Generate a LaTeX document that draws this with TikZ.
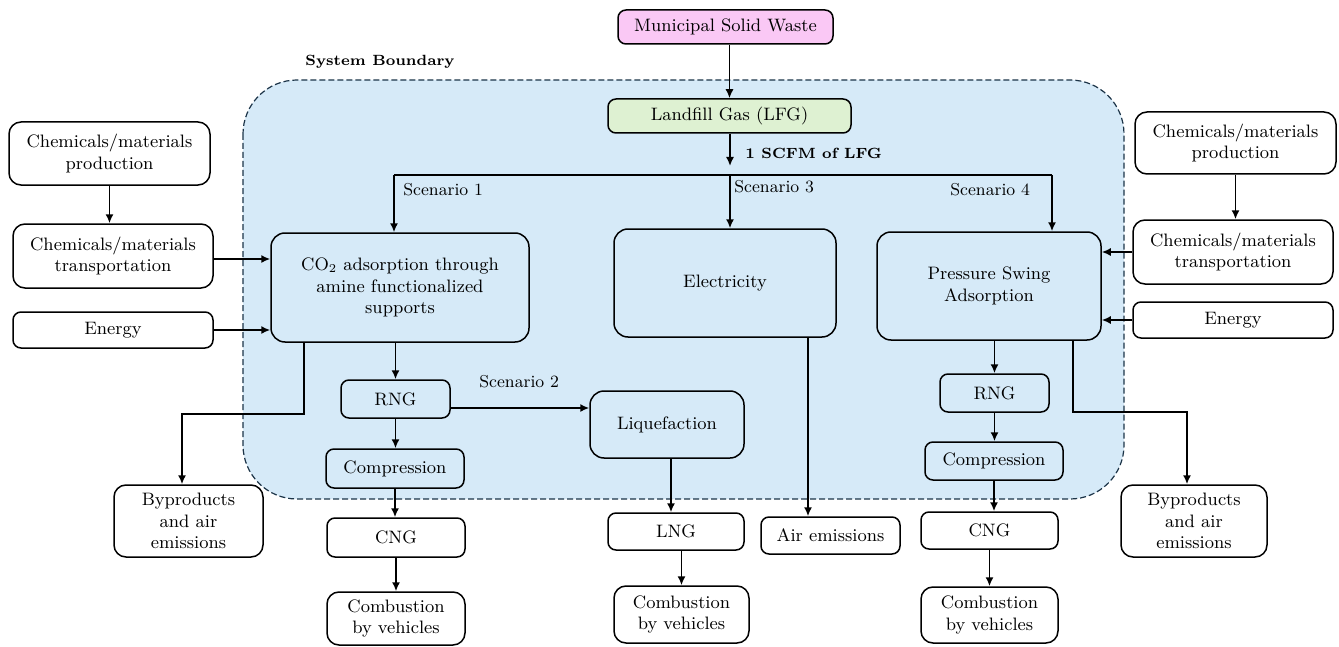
\documentclass[tikz,border=0pt]{standalone}
\usetikzlibrary{arrows.meta,positioning,calc}
\definecolor{zoneblue}{RGB}{214,234,248}
\definecolor{zonenavy}{RGB}{28,52,72}
\definecolor{mswpink}{RGB}{250,200,245}
\definecolor{lfggreen}{RGB}{222,241,210}
\begin{document}
\begin{tikzpicture}[x=0.5pt, y=-0.5pt, font=\fontsize{9}{10.8}\selectfont, >={Latex[length=4.5pt,width=4pt]},
	slot/.style={draw, rounded corners=4pt, line width=0.75pt, align=center, inner sep=1pt},
	inslot/.style={slot, fill=zoneblue},
	outslot/.style={slot, fill=white},
	bigslot/.style={inslot, rounded corners=7pt},
	flow/.style={->, line width=0.8pt},
	tag/.style={font=\fontsize{8.6}{10}\selectfont, anchor=west, inner sep=0pt},
	boldtag/.style={font=\fontsize{7.4}{9}\selectfont\bfseries, inner sep=0pt}]
	\useasboundingbox (0,0) rectangle (1339,647);
	\draw[zonenavy, fill=zoneblue, line width=0.6pt, dash pattern=on 3pt off 1.5pt, rounded corners=27pt] (243,80) rectangle (1124,499);
	\node[boldtag] (sysb) at (380,62) {System Boundary};
	\node[slot, fill=mswpink, minimum width=107.5pt, minimum height=17pt] (msw) at (725.5,27) {Municipal Solid Waste};
	\node[slot, fill=lfggreen, minimum width=121.5pt, minimum height=17pt] (lfg) at (729.5,116) {Landfill Gas (LFG)};
	\node[boldtag, anchor=west] (scfm) at (745,153) {1 SCFM of LFG};
	\coordinate (split) at (730,175);
	\coordinate (splitin) at (730,166);
	\coordinate (s1) at (394,175);
	\coordinate (s4) at (1052,175);
	\node[outslot, rounded corners=6pt, minimum width=100.5pt, minimum height=31.5pt] (cpl) at (109.5,153.5) {Chemicals/materials\\production};
	\node[outslot, rounded corners=6pt, minimum width=100pt, minimum height=32pt] (ctl) at (113,256) {Chemicals/materials\\transportation};
	\node[outslot, minimum width=100pt, minimum height=18pt] (enl) at (113,330) {Energy};
	\node[outslot, rounded corners=6pt, minimum width=100.5pt, minimum height=31pt] (cpr) at (1235.5,143) {Chemicals/materials\\production};
	\node[outslot, rounded corners=6pt, minimum width=100pt, minimum height=32pt] (ctr) at (1233,252) {Chemicals/materials\\transportation};
	\node[outslot, minimum width=100pt, minimum height=18pt] (enr) at (1233,320) {Energy};
	\node[bigslot, minimum width=129pt, minimum height=54.5pt] (co2) at (400,287.5) {CO$_2$ adsorption through\\amine functionalized\\supports};
	\node[bigslot, minimum width=111pt, minimum height=54pt] (elec) at (725,283) {Electricity};
	\node[bigslot, minimum width=112pt, minimum height=54pt] (psa) at (989,286) {Pressure Swing\\Adsorption};
	\node[tag] (sc1) at (403,190) {Scenario 1};
	\node[tag] (sc3) at (734,187) {Scenario 3};
	\node[tag] (sc4) at (950,190) {Scenario 4};
	\node[tag] (sc2) at (479,382) {Scenario 2};
	\node[inslot, minimum width=54.5pt, minimum height=19pt] (rngl) at (395.5,399) {RNG};
	\node[inslot, minimum width=69pt, minimum height=19.5pt] (compl) at (395,468.5) {Compression};
	\node[outslot, minimum width=69pt, minimum height=19.5pt] (cngl) at (396,537.5) {CNG};
	\node[outslot, rounded corners=6pt, minimum width=69pt, minimum height=26.5pt] (combl) at (396,618.5) {Combustion\\by vehicles};
	\node[outslot, rounded corners=6pt, minimum width=74.5pt, minimum height=36pt] (byl) at (188.5,521) {Byproducts\\and air\\emissions};
	\node[bigslot, minimum width=77pt, minimum height=33.5pt] (liq) at (667,424.5) {Liquefaction};
	\node[outslot, minimum width=68pt, minimum height=18.5pt] (lng) at (676,531.5) {LNG};
	\node[outslot, rounded corners=6pt, minimum width=67.5pt, minimum height=28.5pt] (combm) at (681.5,614.5) {Combustion\\by vehicles};
	\node[outslot, minimum width=69.5pt, minimum height=18.5pt] (air) at (830.5,535.5) {Air emissions};
	\node[inslot, minimum width=54.5pt, minimum height=19pt] (rngr) at (994.5,393) {RNG};
	\node[inslot, minimum width=69pt, minimum height=19pt] (compr) at (994,461) {Compression};
	\node[outslot, minimum width=68.5pt, minimum height=18.5pt] (cngr) at (989.5,530.5) {CNG};
	\node[outslot, rounded corners=6pt, minimum width=68.5pt, minimum height=28pt] (combr) at (989.5,615) {Combustion\\by vehicles};
	\node[outslot, rounded corners=6pt, minimum width=73pt, minimum height=36pt] (byr) at (1194,521) {Byproducts\\and air\\emissions};
	\coordinate (byturnl) at (182,414);
	\coordinate (byturnr) at (1187,412);
	\draw[flow] (msw.south -| lfg.north) -- (lfg.north);
	\draw[flow] (lfg.south -| splitin) -- (splitin);
	\draw[line width=0.9pt] (s1) -- (s4);
	\draw[flow] (s1) -- (s1 |- co2.north);
	\draw[flow] (split) -- (split |- elec.north);
	\draw[flow] (s4) -- (s4 |- psa.north);
	\draw[flow] (cpl.south) -- (cpl.south |- ctl.north);
	\draw[flow] ([yshift=-1.5pt]ctl.east) -- ([yshift=-1.5pt]ctl.east -| co2.west);
	\draw[flow] (enl.east) -- (enl.east -| co2.west);
	\draw[flow] (cpr.south) -- (cpr.south |- ctr.north);
	\draw[flow] (ctr.west) -- (ctr.west -| psa.east);
	\draw[flow] (enr.west) -- (enr.west -| psa.east);
	\draw[flow] (co2.south -| rngl.north) -- (rngl.north);
	\draw[flow] (rngl.south) -- (rngl.south |- compl.north);
	\draw[flow] (compl.south) -- (compl.south |- cngl.north);
	\draw[flow] (cngl.south) -- (cngl.south |- combl.north);
	\draw[flow] ([yshift=-4.5pt]rngl.east) -- ([yshift=-4.5pt]rngl.east -| liq.west);
	\draw[flow] ([xshift=2pt]liq.south) -- ([xshift=2pt]liq.south |- lng.north);
	\draw[flow] (lng.south -| combm.north) -- (combm.north);
	\draw[flow] ([xshift=41.5pt]elec.south) -- ([xshift=41.5pt]elec.south |- air.north);
	\draw[flow] ([xshift=-48pt]co2.south) |- (byturnl) -- (byturnl |- byl.north);
	\draw[flow] (psa.south -| rngr.north) -- (rngr.north);
	\draw[flow] (rngr.south) -- (rngr.south |- compr.north);
	\draw[flow] (compr.south) -- (compr.south |- cngr.north);
	\draw[flow] (cngr.south) -- (cngr.south |- combr.north);
	\draw[flow] ([xshift=42pt]psa.south) |- (byturnr) -- (byturnr |- byr.north);
\end{tikzpicture}
\end{document}
